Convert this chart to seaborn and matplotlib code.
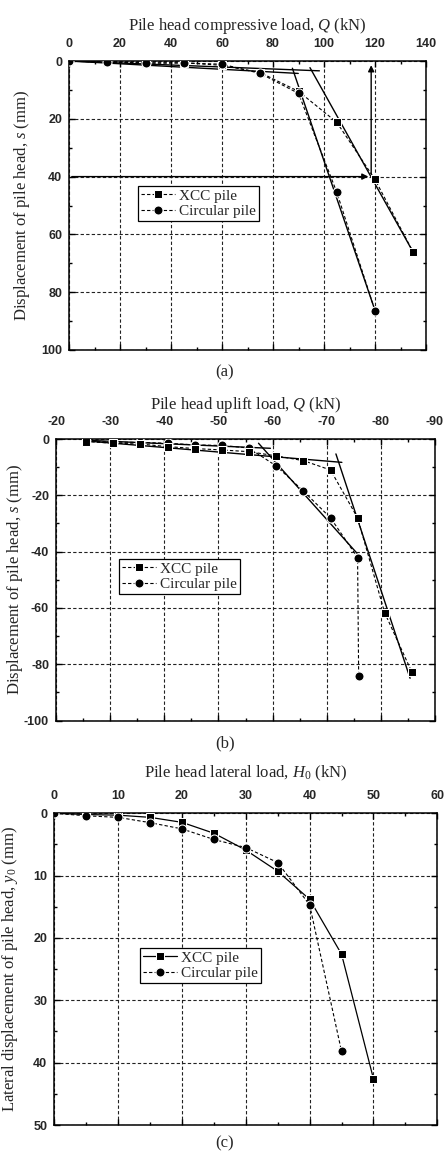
import numpy as np
import pandas as pd
import matplotlib
matplotlib.use("Agg")
import matplotlib.pyplot as plt
import seaborn as sns
from matplotlib.ticker import MultipleLocator

# ---------------- data ----------------
# (a) compressive load test
a_load_xcc = [0, 15, 30, 45, 60, 75, 90, 105, 120, 135]
a_s_xcc = [0, 0.4, 0.6, 0.6, 1.5, 4.0, 10.5, 21.2, 41.0, 66.2]
a_load_circ = [0, 15, 30, 45, 60, 75, 90, 105, 120]
a_s_circ = [0, 0.4, 0.8, 0.7, 1.1, 4.3, 11.2, 45.4, 86.4]
# construction (tangent) lines in (a)
a_tan1_x = [0, 98.2]
a_tan1_y = [0, 3.4]
a_tan2_x = [0, 89.9]
a_tan2_y = [0, 4.3]
a_tan3_x = [87.6, 120]
a_tan3_y = [2.5, 86.3]
a_tan4_x = [94.5, 135]
a_tan4_y = [2.3, 66.2]
a_qu = 118.5
a_s_limit = 40

# (b) uplift load test
b_load_xcc = [-25.5, -30.6, -35.6, -40.6, -45.7, -50.7, -55.6, -60.7, -65.7, -70.7, -75.7, -80.7, -85.7]
b_s_xcc = [-0.9, -1.5, -1.8, -2.7, -3.4, -3.9, -4.5, -6.0, -7.7, -11.0, -28.0, -61.7, -82.7]
b_load_circ = [-25.5, -30.6, -35.6, -40.6, -45.7, -50.7, -55.6, -60.7, -65.7, -70.7, -75.7, -75.9]
b_s_circ = [-0.8, -1.1, -1.2, -1.5, -2.1, -2.3, -3.2, -9.6, -18.5, -28.0, -42.1, -84.2]
b_tan1_x = [-25.0, -59.6]
b_tan1_y = [-0.4, -3.3]
b_tan2_x = [-25.0, -72.8]
b_tan2_y = [-0.6, -8.3]
b_tan3_x = [-57.4, -75.6]
b_tan3_y = [-1.5, -40.6]
b_tan4_x = [-71.7, -85.4]
b_tan4_y = [-5.3, -85.0]

# (c) lateral load test
c_load_xcc = [0, 5, 10, 15, 20, 25, 30, 35, 40, 45, 50]
c_y_xcc = [0, 0.2, 0.3, 0.65, 1.45, 3.2, 5.9, 9.3, 13.8, 22.6, 42.6]
c_load_circ = [0, 5, 10, 15, 20, 25, 30, 35, 40, 45]
c_y_circ = [0, 0.4, 0.65, 1.5, 2.5, 4.2, 5.5, 7.9, 14.7, 38.2]

# ---------------- style ----------------
sns.set_style("ticks")
plt.rcParams["font.family"] = ["Liberation Serif", "DejaVu Serif"]
plt.rcParams["axes.unicode_minus"] = False
plt.rcParams["mathtext.fontset"] = "custom"
plt.rcParams["mathtext.it"] = "Liberation Serif:italic"
plt.rcParams["mathtext.rm"] = "Liberation Serif"

DASH = (0, (3, 2))
LAB_FS = 12
TICK_FS = 9
LEG_FS = 11

fig = plt.figure(figsize=(4.46, 11.53), dpi=100)

def px_axes(left, top, right, bottom):
    W, H = 446.0, 1153.0
    return fig.add_axes([left / W, 1 - bottom / H, (right - left) / W, (bottom - top) / H])

def style_axes(ax, xmaj, xmin, ymaj, ymin):
    ax.xaxis.set_major_locator(MultipleLocator(xmaj))
    ax.xaxis.set_minor_locator(MultipleLocator(xmin))
    ax.yaxis.set_major_locator(MultipleLocator(ymaj))
    ax.yaxis.set_minor_locator(MultipleLocator(ymin))
    ax.tick_params(which="both", direction="in", top=True, bottom=True, left=True, right=True,
                   labeltop=True, labelbottom=False, labelleft=True, labelright=False,
                   width=1.0, color="k")
    ax.tick_params(which="major", length=4, labelsize=TICK_FS)
    ax.tick_params(axis="x", which="major", pad=8)
    ax.tick_params(axis="y", which="major", pad=5)
    ax.tick_params(which="minor", length=2.5)
    for lab in ax.get_xticklabels() + ax.get_yticklabels():
        lab.set_fontfamily("Liberation Sans")
        lab.set_fontweight("bold")
    for sp in ax.spines.values():
        sp.set_visible(True)
        sp.set_linewidth(1.1)
        sp.set_color("k")
    ax.grid(True, which="major", linestyle=DASH, linewidth=0.8, color="#222222")
    ax.set_axisbelow(True)
    ax.xaxis.set_label_position("top")

def seg(ax, x, y, lw=1.0):
    sns.lineplot(x=x, y=y, ax=ax, color="k", linewidth=lw, sort=False, estimator=None, zorder=4)

def make_legend(ax, x_px, y_px, order=None):
    h, l = ax.get_legend_handles_labels()
    if order is not None:
        idx = [l.index(o) for o in order]
        h = [h[i] for i in idx]
        l = [l[i] for i in idx]
    leg = ax.legend(h, l, loc="upper left", bbox_to_anchor=(x_px / 446.0, 1 - y_px / 1153.0),
                    bbox_transform=fig.transFigure, frameon=True, fancybox=False,
                    edgecolor="k", framealpha=1, fontsize=LEG_FS, handlelength=2.2,
                    handletextpad=0.3, borderpad=0.2, labelspacing=0.1, borderaxespad=0)
    leg.get_frame().set_linewidth(0.9)

# ---------------- (a) ----------------
ax = px_axes(69, 61, 426, 350)
sns.lineplot(x=a_load_xcc, y=a_s_xcc, ax=ax, color="k", marker="s", markersize=6,
             linestyle=DASH, linewidth=0.8, sort=False, estimator=None, label="XCC pile", zorder=5)
sns.lineplot(x=a_load_circ, y=a_s_circ, ax=ax, color="k", marker="o", markersize=6.5,
             linestyle=DASH, linewidth=0.8, sort=False, estimator=None, label="Circular pile", zorder=5)
for tx, ty in [(a_tan1_x, a_tan1_y), (a_tan2_x, a_tan2_y), (a_tan3_x, a_tan3_y), (a_tan4_x, a_tan4_y)]:
    seg(ax, tx, ty)
ax.annotate("", xy=(a_qu, 0.5), xytext=(a_qu, a_s_limit),
            arrowprops=dict(arrowstyle="-|>", color="k", lw=1.0, mutation_scale=9), zorder=6)
ax.annotate("", xy=(a_qu, a_s_limit), xytext=(0, a_s_limit),
            arrowprops=dict(arrowstyle="-|>", color="k", lw=1.0, mutation_scale=9), zorder=6)
ax.set_xlim(0, 140)
ax.set_ylim(100, 0)
style_axes(ax, 20, 10, 20, 10)
ax.set_xlabel(r"Pile head compressive load, $\mathit{Q}$ (kN)", fontsize=LAB_FS, labelpad=6)
ax.set_ylabel(r"Displacement of pile head, $\mathit{s}$ (mm)", fontsize=LAB_FS)
ax.yaxis.set_label_coords((32 - 69) / 357.0, 0.5)
make_legend(ax, 138, 186)
fig.text(225 / 446, 1 - 372 / 1153, "(a)", ha="center", va="center", fontsize=LAB_FS)

# ---------------- (b) ----------------
ax = px_axes(56, 439, 435, 720.5)
sns.lineplot(x=b_load_circ, y=b_s_circ, ax=ax, color="k", marker="o", markersize=6.5,
             linestyle=DASH, linewidth=0.8, sort=False, estimator=None, label="Circular pile", zorder=5)
sns.lineplot(x=b_load_xcc, y=b_s_xcc, ax=ax, color="k", marker="s", markersize=6,
             linestyle=DASH, linewidth=0.8, sort=False, estimator=None, label="XCC pile", zorder=6)
for tx, ty in [(b_tan1_x, b_tan1_y), (b_tan2_x, b_tan2_y), (b_tan3_x, b_tan3_y), (b_tan4_x, b_tan4_y)]:
    seg(ax, tx, ty)
ax.set_xlim(-20, -90)
ax.set_ylim(-100, 0)
style_axes(ax, 10, 5, 20, 10)
ax.set_xlabel(r"Pile head uplift load, $\mathit{Q}$ (kN)", fontsize=LAB_FS, labelpad=5)
ax.set_ylabel(r"Displacement of pile head, $\mathit{s}$ (mm)", fontsize=LAB_FS)
ax.yaxis.set_label_coords((25 - 56) / 379.0, 0.5)
make_legend(ax, 119, 559, order=["XCC pile", "Circular pile"])
fig.text(225 / 446, 1 - 743 / 1153, "(b)", ha="center", va="center", fontsize=LAB_FS)

# ---------------- (c) ----------------
ax = px_axes(54.3, 813.3, 437.3, 1125)
sns.lineplot(x=c_load_xcc, y=c_y_xcc, ax=ax, color="k", marker="s", markersize=6,
             linestyle="-", linewidth=0.9, sort=False, estimator=None, label="XCC pile", zorder=5)
sns.lineplot(x=c_load_circ, y=c_y_circ, ax=ax, color="k", marker="o", markersize=6.5,
             linestyle=DASH, linewidth=0.8, sort=False, estimator=None, label="Circular pile", zorder=5)
ax.set_xlim(0, 60)
ax.set_ylim(50, 0)
style_axes(ax, 10, 5, 10, 5)
ax.set_xlabel(r"Pile head lateral load, $\mathit{H}_{0}$ (kN)", fontsize=LAB_FS)
ax.xaxis.set_label_coords(0.5, 1.115)
ax.set_ylabel(r"Lateral displacement of pile head, $\mathit{y}_{0}$ (mm)", fontsize=LAB_FS)
ax.yaxis.set_label_coords((20 - 54.3) / 383.0, 0.5)
make_legend(ax, 140, 948)
fig.text(225 / 446, 1 - 1143 / 1153, "(c)", ha="center", va="center", fontsize=LAB_FS)

fig.savefig("out.png", dpi=100)
